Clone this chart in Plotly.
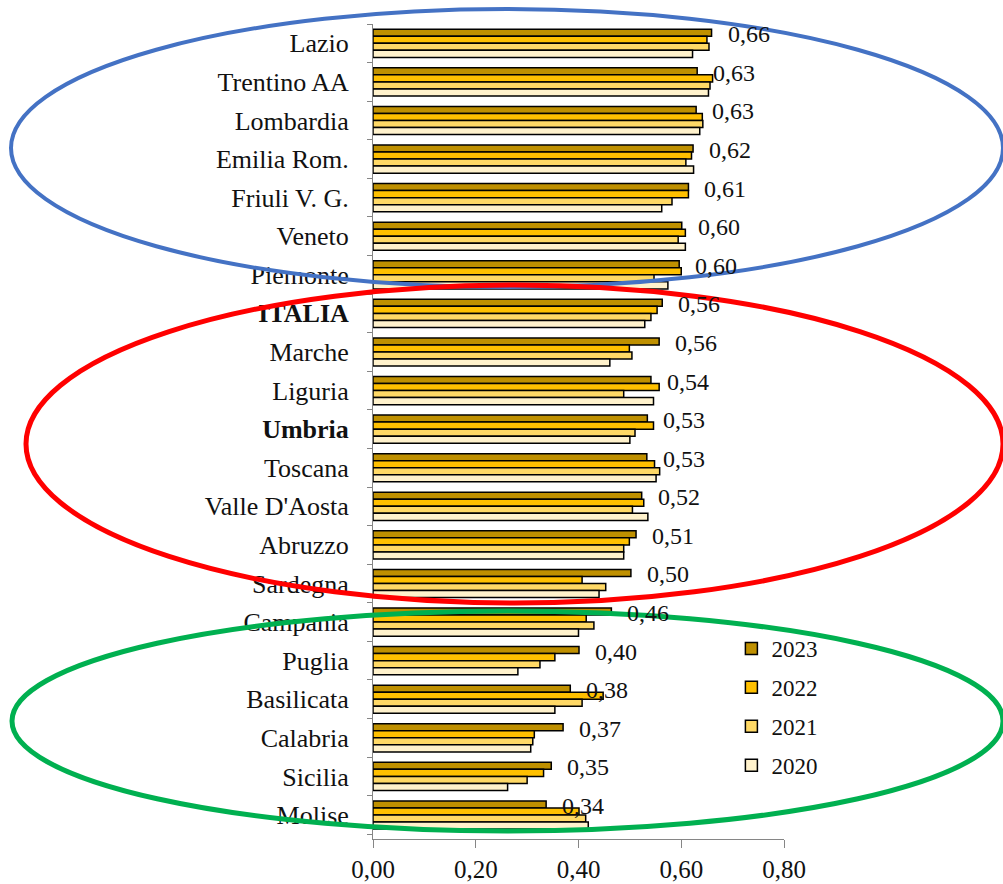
import plotly.graph_objects as go

# Regions, top to bottom
regions = ["Lazio", "Trentino AA", "Lombardia", "Emilia Rom.", "Friuli V. G.", "Veneto",
           "Piemonte", "ITALIA", "Marche", "Liguria", "Umbria", "Toscana",
           "Valle D'Aosta", "Abruzzo", "Sardegna", "Campania", "Puglia", "Basilicata",
           "Calabria", "Sicilia", "Molise"]
bold_regions = ["ITALIA", "Umbria"]

years = ["2023", "2022", "2021", "2020"]
v2023 = [0.659, 0.631, 0.629, 0.623, 0.614, 0.601, 0.596, 0.563, 0.557, 0.541, 0.534,
         0.533, 0.523, 0.512, 0.502, 0.464, 0.401, 0.384, 0.370, 0.347, 0.337]
v2022 = [0.650, 0.661, 0.641, 0.620, 0.614, 0.608, 0.600, 0.553, 0.499, 0.557, 0.546,
         0.548, 0.527, 0.499, 0.407, 0.415, 0.354, 0.448, 0.314, 0.332, 0.401]
v2021 = [0.654, 0.656, 0.642, 0.609, 0.582, 0.594, 0.547, 0.541, 0.504, 0.488, 0.510,
         0.558, 0.505, 0.488, 0.453, 0.430, 0.325, 0.407, 0.311, 0.300, 0.414]
v2020 = [0.622, 0.653, 0.636, 0.624, 0.562, 0.608, 0.574, 0.529, 0.461, 0.546, 0.500,
         0.551, 0.535, 0.488, 0.440, 0.400, 0.282, 0.354, 0.307, 0.262, 0.419]
series = [v2023, v2022, v2021, v2020]
colors = ["#BF9000", "#FFC000", "#FFD966", "#FFF2CC"]

x_ticks = [0.0, 0.2, 0.4, 0.6, 0.8]

FONT = "Liberation Serif, Times New Roman, serif"
TXT = "#111111"

fig = go.Figure()
for name, vals, col in zip(years, series, colors):
    fig.add_trace(go.Bar(
        y=regions, x=vals, name=name, orientation="h",
        marker=dict(color=col, line=dict(color="black", width=1.5)),
        legendgroup=name,
    ))

# value labels for the latest year
for reg, v in zip(regions, v2023):
    fig.add_annotation(
        x=v, y=reg, xref="x", yref="y",
        text=f"{v:.2f}".replace(".", ","),
        showarrow=False, xanchor="left", yanchor="middle",
        xshift=14, yshift=9,
        font=dict(family=FONT, size=24, color=TXT),
    )

# plot area in pixels: x 373..784, y 24..839
L, R, T, B = 373, 784, 24, 839
W, H = R - L, B - T


def px(X):
    return (X - L) / W


def py(Y):
    return (B - Y) / H


ellipses = [
    (11, 9, 1003, 287, "#4472C4", 4),
    (26, 285, 1003, 603, "#FF0000", 5),
    (12, 611, 1003, 831, "#00B050", 5),
]
for x0, y0, x1, y1, col, w in ellipses:
    fig.add_shape(type="circle", xref="paper", yref="paper",
                  x0=px(x0), x1=px(x1), y0=py(y1), y1=py(y0),
                  line=dict(color=col, width=w), layer="above")

ticktext = [f"<b>{r}</b>" if r in bold_regions else r for r in regions]

fig.update_layout(
    width=1003, height=884,
    margin=dict(l=L, r=1003 - R, t=T, b=884 - B, autoexpand=False),
    paper_bgcolor="white", plot_bgcolor="white",
    separators=",.",
    barmode="group", bargap=0.27, bargroupgap=0,
    font=dict(family=FONT, size=24, color=TXT),
    showlegend=True,
    legend=dict(x=0.872, y=py(627), xanchor="left", yanchor="top",
                traceorder="grouped", tracegroupgap=6,
                font=dict(family=FONT, size=23, color=TXT),
                bgcolor="rgba(0,0,0,0)"),
    xaxis=dict(range=[0, 0.8], tickvals=x_ticks, tickformat=".2f",
               showgrid=False, zeroline=False, showline=True,
               linecolor="#868686", linewidth=1, automargin=False,
               ticks="outside", ticklen=8, tickcolor="#868686",
               tickfont=dict(family=FONT, size=25, color=TXT)),
    yaxis=dict(type="category", categoryorder="array", categoryarray=regions,
               autorange="reversed", tickvals=regions, ticktext=ticktext,
               tickson="boundaries", showgrid=False, zeroline=False,
               showline=True, linecolor="#868686", linewidth=1, automargin=False,
               ticks="outside", ticklen=5, tickcolor="#868686",
               ticklabelstandoff=18,
               tickfont=dict(family=FONT, size=26, color=TXT)),
)

fig.write_html("out.html")
